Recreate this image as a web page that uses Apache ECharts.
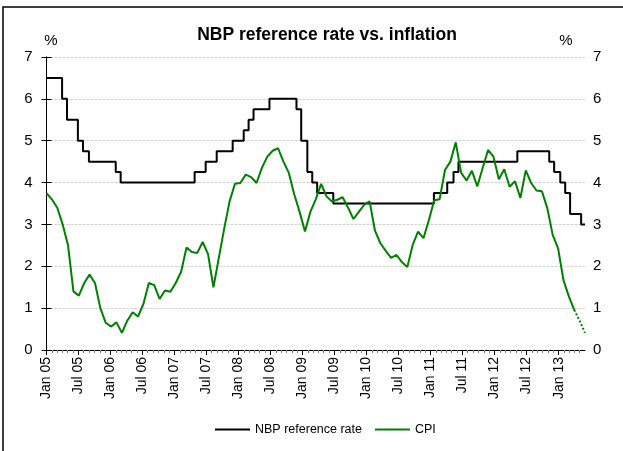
<!DOCTYPE html>
<html>
<head>
<meta charset="utf-8">
<script src="https://cdn.jsdelivr.net/npm/echarts@6/dist/echarts.min.js"></script>
<style>
  html, body { margin: 0; padding: 0; background: #fff; }
  #chart { width: 623px; height: 451px; }
</style>
</head>
<body>
<div id="chart"></div>
<script>
// NBP reference rate decisions (date the new rate took effect, level in %)
var rateDates = ['2005-01-01', '2005-03-31', '2005-04-28', '2005-06-29', '2005-07-28', '2005-08-31',
  '2006-01-31', '2006-02-28', '2007-04-26', '2007-06-28', '2007-08-30', '2007-11-29',
  '2008-01-31', '2008-02-28', '2008-03-27', '2008-06-26', '2008-11-27', '2008-12-24',
  '2009-01-28', '2009-02-25', '2009-03-25', '2009-06-25', '2011-01-20', '2011-04-06',
  '2011-05-12', '2011-06-09', '2012-05-10', '2012-11-08', '2012-12-06', '2013-01-10',
  '2013-02-07', '2013-03-07', '2013-05-09'];
var rateValues = [6.5, 6.0, 5.5, 5.0, 4.75, 4.5,
  4.25, 4.0, 4.25, 4.5, 4.75, 5.0,
  5.25, 5.5, 5.75, 6.0, 5.75, 5.0,
  4.25, 4.0, 3.75, 3.5, 3.75, 4.0,
  4.25, 4.5, 4.75, 4.5, 4.25, 4.0,
  3.75, 3.25, 3.0];

// CPI y/y, monthly Jan 2005 - May 2013 (%)
var cpi2005 = [3.75, 3.6, 3.4, 3.0, 2.5, 1.4, 1.3, 1.6, 1.8, 1.6, 1.0, 0.65];
var cpi2006 = [0.56, 0.66, 0.41, 0.7, 0.9, 0.8, 1.1, 1.6, 1.55, 1.22, 1.42, 1.39];
var cpi2007 = [1.6, 1.87, 2.45, 2.34, 2.32, 2.58, 2.29, 1.5, 2.2, 2.9, 3.55, 3.97];
var cpi2008 = [3.99, 4.19, 4.13, 3.99, 4.35, 4.62, 4.76, 4.82, 4.5, 4.23, 3.72, 3.3];
var cpi2009 = [2.83, 3.3, 3.6, 3.97, 3.67, 3.55, 3.59, 3.65, 3.4, 3.13, 3.3, 3.47];
var cpi2010 = [3.55, 2.85, 2.55, 2.37, 2.2, 2.27, 2.1, 1.98, 2.51, 2.83, 2.67, 3.1];
var cpi2011 = [3.58, 3.6, 4.3, 4.5, 4.96, 4.23, 4.05, 4.28, 3.91, 4.35, 4.78, 4.62];
var cpi2012 = [4.08, 4.32, 3.9, 4.03, 3.63, 4.29, 3.99, 3.81, 3.79, 3.39, 2.75, 2.43];
var cpi2013 = [1.67, 1.28, 0.96, 0.7, 0.41];
// the last months are preliminary and drawn dotted
var cpiPreliminaryFrom = '2013-03';

var axisStart = '2005-01-01';
var axisEnd = '2013-05-31';
var labelMonths = ['Jan', 'Jul'];
var monthNames = ['Jan', 'Feb', 'Mar', 'Apr', 'May', 'Jun', 'Jul', 'Aug', 'Sep', 'Oct', 'Nov', 'Dec'];

var DAY = 86400000;
function dayNo(s) {
  var p = s.split('-');
  return Math.round((Date.UTC(+p[0], +p[1] - 1, +(p[2] || 1)) - Date.UTC(2005, 0, 1)) / DAY);
}
var endDay = dayNo(axisEnd);

// step series for the reference rate on a day-based axis
var rateData = rateDates.map(function (d, i) { return [dayNo(d), rateValues[i]]; });
rateData.push([endDay, rateValues[rateValues.length - 1]]);

// monthly CPI as one list with category labels
var cpiAll = [].concat(cpi2005, cpi2006, cpi2007, cpi2008, cpi2009, cpi2010, cpi2011, cpi2012, cpi2013);
var cpiMonths = cpiAll.map(function (v, i) {
  var y = 2005 + Math.floor(i / 12), m = i % 12 + 1;
  return y + '-' + (m < 10 ? '0' + m : m);
});
var splitIdx = cpiMonths.indexOf(cpiPreliminaryFrom);
var cpiSolid = cpiAll.map(function (v, i) { return i <= splitIdx ? v : null; });
var cpiDotted = cpiAll.map(function (v, i) { return i >= splitIdx ? v : null; });

// tick positions: every month start, labels every half year
var monthTicks = [], halfYearTicks = [];
for (var y = 2005; y <= 2013; y++) {
  for (var m = 0; m < 12; m++) {
    var d = dayNo(y + '-' + (m + 1) + '-1');
    if (d > endDay) break;
    monthTicks.push(d);
    if (labelMonths.indexOf(monthNames[m]) >= 0) halfYearTicks.push(d);
  }
}
function monthLabel(v) {
  var dt = new Date(Date.UTC(2005, 0, 1) + v * DAY);
  var yy = String(dt.getUTCFullYear()).slice(2);
  return monthNames[dt.getUTCMonth()] + ' ' + yy;
}

var FONT = "'Liberation Sans', Arial, sans-serif";
var chart = echarts.init(document.getElementById('chart'), null, { renderer: 'canvas' });

chart.setOption({
  animation: false,
  backgroundColor: '#ffffff',
  grid: { left: 46.5, right: 38, top: 57, height: 293, containLabel: false },
  graphic: [
    { type: 'rect', silent: true, shape: { x: 3, y: 7, width: 700, height: 500 },
      style: { fill: 'none', stroke: '#000', lineWidth: 1.5 } },
    { type: 'text', silent: true, x: 327, y: 35,
      style: { text: 'NBP reference rate vs. inflation', fill: '#000', align: 'center', verticalAlign: 'middle',
        font: "bold 17.5px " + FONT } },
    { type: 'text', silent: true, x: 51, y: 41,
      style: { text: '%', fill: '#000', align: 'center', verticalAlign: 'middle', font: "15px " + FONT } },
    { type: 'text', silent: true, x: 566, y: 41,
      style: { text: '%', fill: '#000', align: 'center', verticalAlign: 'middle', font: "15px " + FONT } }
  ],
  legend: {
    data: ['NBP reference rate', 'CPI'],
    icon: 'rect',
    left: 210, top: 418,
    itemWidth: 35, itemHeight: 2, itemGap: 13,
    textStyle: { color: '#000', fontSize: 12.5, fontFamily: FONT }
  },
  xAxis: [
    { type: 'value', min: 0, max: endDay, position: 'bottom',
      axisLine: { show: true, onZero: false, lineStyle: { color: '#000', width: 1 } },
      axisTick: { show: true, customValues: monthTicks, length: 3, lineStyle: { color: '#808080' } },
      axisLabel: { show: false }, splitLine: { show: false } },
    { type: 'value', min: 0, max: endDay, position: 'bottom',
      axisLine: { show: false },
      axisTick: { show: true, customValues: halfYearTicks, length: 5, lineStyle: { color: '#000' } },
      axisLabel: { show: true, customValues: halfYearTicks, rotate: 90, margin: 7, color: '#000',
        fontSize: 14, fontFamily: FONT, formatter: monthLabel },
      splitLine: { show: false } },
    { type: 'category', data: cpiMonths, boundaryGap: false, show: false }
  ],
  yAxis: [
    { type: 'value', min: 0, max: 7, interval: 1, position: 'left',
      axisLine: { show: true, lineStyle: { color: '#000' } },
      axisTick: { show: true, length: 5, lineStyle: { color: '#000' } },
      axisLabel: { color: '#000', fontSize: 15, fontFamily: FONT, margin: 14 },
      splitLine: { show: true, lineStyle: { color: '#d4d4d4', type: [3, 1], width: 1 } } },
    { type: 'value', min: 0, max: 7, interval: 1, position: 'right',
      axisLine: { show: true, lineStyle: { color: '#000' } },
      axisTick: { show: true, length: 5, lineStyle: { color: '#000' } },
      axisLabel: { color: '#000', fontSize: 15, fontFamily: FONT, margin: 8 },
      splitLine: { show: false } }
  ],
  series: [
    { name: 'NBP reference rate', type: 'line', xAxisIndex: 0, yAxisIndex: 0,
      data: rateData, step: 'end', symbol: 'none', z: 3,
      lineStyle: { color: '#000', width: 2 }, itemStyle: { color: '#000' } },
    { name: 'CPI', type: 'line', xAxisIndex: 2, yAxisIndex: 0,
      data: cpiSolid, symbol: 'none', connectNulls: false, z: 4,
      lineStyle: { color: '#008000', width: 2 }, itemStyle: { color: '#008000' } },
    { name: 'CPI preliminary', type: 'line', xAxisIndex: 2, yAxisIndex: 0,
      data: cpiDotted, symbol: 'none', connectNulls: false, z: 4,
      lineStyle: { color: '#008000', width: 2, type: [2, 2] } }
  ]
});
</script>
</body>
</html>
